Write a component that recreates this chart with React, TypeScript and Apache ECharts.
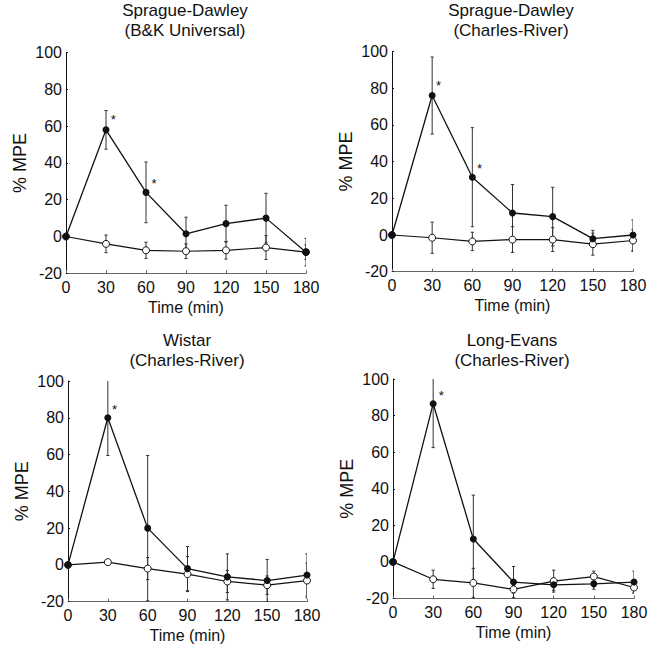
import React, { useEffect, useRef } from "react";
import * as echarts from "echarts";

const times = [0, 30, 60, 90, 120, 150, 180];
const yTicks = [-20, 0, 20, 40, 60, 80, 100];

const titles = [
  "Sprague-Dawley\n(B&K Universal)",
  "Sprague-Dawley\n(Charles-River)",
  "Wistar\n(Charles-River)",
  "Long-Evans\n(Charles-River)",
];

// filled circles (drug) means and error (SEM)
const filledMean1 = [0, 58, 24, 1.5, 7, 10, -8.5];
const filledErr1 = [0, 10.5, 16.5, 9, 10, 13.5, 7.5];
const openMean1 = [0, -4, -7.5, -8, -7.5, -6, -8.5];
const openErr1 = [0, 4.8, 4.4, 4, 4.8, 6.5, 4];
const stars1 = [[35.5, 65], [66, 30.5]];

const filledMean2 = [0, 76, 31.5, 12, 10, -2, 0];
const filledErr2 = [0, 21, 27, 15.5, 16, 4.5, 8.3];
const openMean2 = [0, -1.5, -3.5, -2.5, -2.5, -5, -3];
const openErr2 = [0, 8.5, 5, 7, 6.5, 6, 6];
const stars2 = [[34.8, 83], [65.4, 38]];

const filledMean3 = [0, 80, 20, -2, -6.5, -8.5, -5.5];
const filledErr3 = [0, 20.5, 39.5, 12, 12.5, 11.5, 11.5];
const openMean3 = [0, 1.5, -2, -5, -9, -11, -8.5];
const openErr3 = [0, 1, 6, 9.5, 6, 5, 9.5];
const stars3 = [[35.1, 86.4]];

const filledMean4 = [0, 86.5, 12.5, -11, -12.5, -12, -11];
const filledErr4 = [0, 24, 24, 8.5, 3, 3, 6];
const openMean4 = [0, -9.5, -11.5, -15, -10.5, -8, -14];
const openErr4 = [0, 5, 8, 2, 6, 3, 3];
const stars4 = [[36, 92.6]];

const panels = [
  { fm: filledMean1, fe: filledErr1, om: openMean1, oe: openErr1, stars: stars1 },
  { fm: filledMean2, fe: filledErr2, om: openMean2, oe: openErr2, stars: stars2 },
  { fm: filledMean3, fe: filledErr3, om: openMean3, oe: openErr3, stars: stars3 },
  { fm: filledMean4, fe: filledErr4, om: openMean4, oe: openErr4, stars: stars4 },
];

const grids = [
  { left: 66, top: 52.6, width: 240, height: 220.7 },
  { left: 392, top: 51.5, width: 241, height: 220.2 },
  { left: 68, top: 381, width: 239, height: 220.7 },
  { left: 393, top: 379, width: 241, height: 219.5 },
];
const titlePos = [
  { x: 185, y: 0 },
  { x: 511, y: 0 },
  { x: 187, y: 330 },
  { x: 512, y: 330 },
];

const FONT = "Liberation Sans, Arial, Helvetica, sans-serif";
const INK = "#111";

function errRender(params: any, api: any) {
  const x = api.value(0);
  const lo = api.value(1);
  const hi = api.value(2);
  const p1 = api.coord([x, lo]);
  const p2 = api.coord([x, hi]);
  const cap = 1.6;
  const st = { stroke: "#333", lineWidth: 1 };
  return {
    type: "group",
    children: [
      { type: "line", shape: { x1: p1[0], y1: p1[1], x2: p2[0], y2: p2[1] }, style: st },
      { type: "line", shape: { x1: p1[0] - cap, y1: p1[1], x2: p1[0] + cap, y2: p1[1] }, style: st },
      { type: "line", shape: { x1: p2[0] - cap, y1: p2[1], x2: p2[0] + cap, y2: p2[1] }, style: st },
    ],
  };
}

function starRender(params: any, api: any) {
  const p = api.coord([api.value(0), api.value(1)]);
  return {
    type: "text",
    x: p[0],
    y: p[1] + 3,
    style: {
      text: "*",
      fontSize: 13,
      fontFamily: FONT,
      fill: INK,
      textAlign: "center",
      textVerticalAlign: "middle",
    },
  };
}

export default function App() {
  const ref = useRef<HTMLDivElement>(null);
  useEffect(() => {
    if (!ref.current) return;
    const chart = echarts.init(ref.current, undefined, { renderer: "svg" });
    const series: any[] = [];
    panels.forEach((p, i) => {
      const errData = (m: number[], e: number[]) =>
        times.filter((_, k) => e[k] > 0).map((t) => {
          const k = times.indexOf(t);
          return [t, m[k] - e[k], m[k] + e[k]];
        });
      series.push({
        type: "custom",
        xAxisIndex: i,
        yAxisIndex: i,
        renderItem: errRender,
        clip: true,
        z: 1,
        data: errData(p.om, p.oe),
      });
      series.push({
        type: "custom",
        xAxisIndex: i,
        yAxisIndex: i,
        renderItem: errRender,
        clip: true,
        z: 1,
        data: errData(p.fm, p.fe),
      });
      series.push({
        type: "line",
        xAxisIndex: i,
        yAxisIndex: i,
        data: times.map((t, k) => [t, p.om[k]]),
        symbol: "circle",
        symbolSize: 7,
        itemStyle: { color: "#fff", borderColor: INK, borderWidth: 1 },
        lineStyle: { color: INK, width: 1.2 },
        z: 3,
      });
      series.push({
        type: "line",
        xAxisIndex: i,
        yAxisIndex: i,
        data: times.map((t, k) => [t, p.fm[k]]),
        symbol: "circle",
        symbolSize: 7,
        itemStyle: { color: INK, borderColor: INK, borderWidth: 0 },
        lineStyle: { color: INK, width: 1.3 },
        z: 4,
      });
      series.push({
        type: "custom",
        xAxisIndex: i,
        yAxisIndex: i,
        renderItem: starRender,
        z: 5,
        data: p.stars,
      });
    });

    chart.setOption({
      animation: false,
      backgroundColor: "#fff",
      title: titles.map((t, i) => ({
        text: t,
        left: titlePos[i].x,
        top: titlePos[i].y,
        textAlign: "center",
        padding: 0,
        textStyle: {
          fontSize: 17,
          fontWeight: "normal",
          fontFamily: FONT,
          color: INK,
          lineHeight: 20,
        },
      })),
      grid: grids.map((g) => ({ ...g })),
      xAxis: grids.map((_, i) => ({
        type: "value",
        gridIndex: i,
        min: 0,
        max: 180,
        interval: 30,
        name: "Time (min)",
        nameLocation: "middle",
        nameGap: 26,
        nameTextStyle: { fontSize: 16, fontFamily: FONT, color: INK },
        axisLine: { show: true, onZero: false, lineStyle: { color: "#666", width: 1 } },
        axisTick: { show: true, inside: true, length: 3, lineStyle: { color: "#666" } },
        axisLabel: { fontSize: 16, fontFamily: FONT, color: INK, margin: 6 },
        splitLine: { show: false },
      })),
      yAxis: grids.map((_, i) => ({
        type: "value",
        gridIndex: i,
        min: yTicks[0],
        max: yTicks[yTicks.length - 1],
        interval: 20,
        name: "% MPE",
        nameLocation: "middle",
        nameGap: 37,
        nameTextStyle: { fontSize: 18, fontFamily: FONT, color: INK },
        axisLine: { show: true, onZero: false, lineStyle: { color: INK, width: 1 } },
        axisTick: { show: true, inside: true, length: 2, lineStyle: { color: INK } },
        axisLabel: { fontSize: 16, fontFamily: FONT, color: INK, margin: 4 },
        splitLine: { show: false },
      })),
      series,
    });
    return () => chart.dispose();
  }, []);
  return (
    <div
      ref={ref}
      style={{ position: "absolute", left: 0, top: 0, width: 661, height: 647 }}
    />
  );
}
